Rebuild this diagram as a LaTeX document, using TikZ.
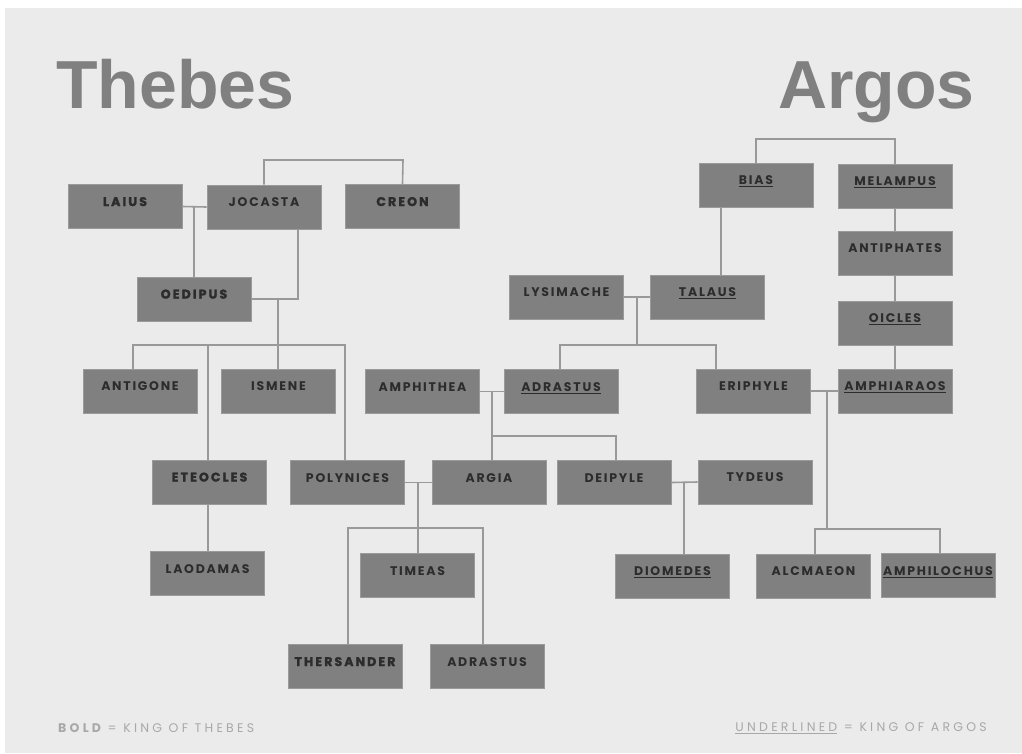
\documentclass[tikz,border=0pt]{standalone}
\usepackage{fontspec}
\newfontfamily\titlefont{Liberation Sans}
\newfontfamily\boxfont[LetterSpace=14]{Poppins}
\newfontfamily\kingfont[LetterSpace=17,BoldFeatures={FakeBold=2}]{Poppins}
\newfontfamily\legfont[LetterSpace=26]{Poppins}
\definecolor{bgc}{HTML}{EBEBEB}
\definecolor{boxc}{HTML}{808080}
\definecolor{boxline}{HTML}{9A9A9A}
\definecolor{linec}{HTML}{999999}
\definecolor{txtc}{HTML}{2C2C2C}
\definecolor{titlec}{HTML}{808080}
\definecolor{legc}{HTML}{A8A8A8}
\newcommand\ulname[1]{\setbox0\hbox{#1}\rlap{\raisebox{-2.8pt}{\color{txtc}\rule{\wd0}{1pt}}}\box0}
\begin{document}
\begin{tikzpicture}[x=1pt,y=-1pt,
  person/.style={draw=boxline, line width=0.8pt, fill=boxc, minimum width=114pt, minimum height=44pt,
     inner sep=0pt, text height=9pt, text depth=10pt, text=txtc, font=\boxfont\bfseries\fontsize{12.5}{13}\selectfont},
  king/.style={person, font=\kingfont\bfseries\fontsize{12.5}{13}\selectfont},
  conn/.style={draw=linec, line width=1.6pt},
  title/.style={text=titlec, font=\titlefont\bfseries\fontsize{68}{70}\selectfont, inner sep=0pt},
  legend/.style={text=legc, font=\legfont\fontsize{12.5}{14}\selectfont, inner sep=0pt}]
\useasboundingbox (0,0) rectangle (1022,753);
\fill[white] (0,0) rectangle (1022,753);
\fill[bgc] (5,8) rectangle (1022,753);

% titles
\node[title, anchor=base west] (thebes) at (56,108) {Thebes};
\node[title, anchor=base east] (argos) at (975,108) {Argos};

% Thebes
\node[king]   (laius)      at (125,206.5) {LAIUS};
\node[person] (jocasta)    at (264,207)   {JOCASTA};
\node[king]   (creon)      at (402.5,206.5) {CREON};
\node[king]   (oedipus)    at (194,299)   {OEDIPUS};
\node[person] (antigone)   at (140,391)   {ANTIGONE};
\node[person] (ismene)     at (278.5,391) {ISMENE};
\node[king]   (eteocles)   at (209.5,482) {ETEOCLES};
\node[person] (polynices)  at (347.5,482.5) {POLYNICES};
\node[person] (laodamas)   at (207.5,573.5) {LAODAMAS};
\node[person] (argia)      at (489,482.5) {ARGIA};
\node[person] (deipyle)    at (614,482.5) {DEIPYLE};
\node[person] (timeas)     at (417.5,575.5) {TIMEAS};
\node[king]   (thersander) at (345,666.5) {THERSANDER};
\node[person] (adrastusb)  at (487,666.5) {ADRASTUS};

% Argos
\node[person] (amphithea)  at (422.5,391.5) {AMPHITHEA};
\node[person] (adrastusa)  at (561,391.5) {\ulname{ADRASTUS}};
\node[person] (bias)       at (756,185) {\ulname{BIAS}};
\node[person] (melampus)   at (895,186) {\ulname{MELAMPUS}};
\node[person] (lysimache)  at (566.5,297) {LYSIMACHE};
\node[person] (talaus)     at (707.5,297) {\ulname{TALAUS}};
\node[person] (antiphates) at (895,253) {ANTIPHATES};
\node[person] (oicles)     at (895,323) {\ulname{OICLES}};
\node[person] (amphiaraos) at (895,391) {\ulname{AMPHIARAOS}};
\node[person] (eriphyle)   at (753.5,391) {ERIPHYLE};
\node[person] (tydeus)     at (755,482) {TYDEUS};
\node[person] (diomedes)   at (672.5,576) {\ulname{DIOMEDES}};
\node[person] (alcmaeon)   at (813.5,576) {ALCMAEON};
\node[person] (amphilochus) at (938,575.5) {\ulname{AMPHILOCHUS}};

% junction coordinates
\coordinate (lj) at (194,207);
\coordinate (jo) at (298,185);
\coordinate (oj) at (278,299);
\coordinate (t1) at (133,345);
\coordinate (t2) at (345,345);
\coordinate (te) at (208,345);
\coordinate (pa) at (418,482.5);
\coordinate (pb1) at (348,528);
\coordinate (pb2) at (483,528);
\coordinate (aa) at (492,391.5);
\coordinate (ab) at (492,436);
\coordinate (ab2) at (616,436);
\coordinate (bt) at (721,207);
\coordinate (lt) at (637,297);
\coordinate (lt2) at (637,345);
\coordinate (c1) at (560,345);
\coordinate (c2) at (716,345);
\coordinate (ea) at (827,391);
\coordinate (ea2) at (827,529);
\coordinate (d1) at (815,529);
\coordinate (d2) at (940,529);
\coordinate (dt) at (684,482.5);
\coordinate (b1) at (264,160);
\coordinate (b2) at (403,160);
\coordinate (m1) at (756,139);
\coordinate (m2) at (895,139);

% Thebes connectors
\draw[conn] (jocasta.north) -- (b1) -- (b2) -- (creon.north);
\draw[conn] (laius.east) -- (jocasta.west);
\draw[conn] (lj) -- (oedipus.north);
\draw[conn] (jocasta.south -| jo) |- (oedipus.east);
\draw[conn] (oj) -- (ismene.north -| oj);
\draw[conn] (antigone.north -| t1) -- (t1) -- (t2) -- (polynices.north -| t2);
\draw[conn] (te) -- (eteocles.north -| te);
\draw[conn] (eteocles.south -| te) -- (laodamas.north -| te);
\draw[conn] (polynices.east) -- (argia.west);
\draw[conn] (pa) -- (timeas.north -| pa);
\draw[conn] (thersander.north -| pb1) -- (pb1) -- (pb2) -- (adrastusb.north -| pb2);

% Argos connectors
\draw[conn] (bias.north) -- (m1) -- (m2) -- (melampus.north);
\draw[conn] (bias.south -| bt) -- (talaus.north -| bt);
\draw[conn] (lysimache.east) -- (talaus.west);
\draw[conn] (lt) -- (lt2);
\draw[conn] (adrastusa.north -| c1) -- (c1) -- (c2) -- (eriphyle.north -| c2);
\draw[conn] (melampus.south) -- (antiphates.north);
\draw[conn] (antiphates.south) -- (oicles.north);
\draw[conn] (oicles.south) -- (amphiaraos.north);
\draw[conn] (amphithea.east) -- (adrastusa.west);
\draw[conn] (aa) -- (argia.north -| aa);
\draw[conn] (ab) -- (ab2) -- (deipyle.north -| ab2);
\draw[conn] (eriphyle.east) -- (amphiaraos.west);
\draw[conn] (ea) -- (ea2);
\draw[conn] (alcmaeon.north -| d1) -- (d1) -- (d2) -- (amphilochus.north -| d2);
\draw[conn] (deipyle.east) -- (tydeus.west);
\draw[conn] (dt) -- (diomedes.north -| dt);

% legend
\node[legend, anchor=west] (legbold) at (58,728) {{\bfseries BOLD} = KING OF THEBES};
\node[legend, anchor=east] (legul) at (987,728) {\underline{UNDERLINED} = KING OF ARGOS};
\end{tikzpicture}
\end{document}
